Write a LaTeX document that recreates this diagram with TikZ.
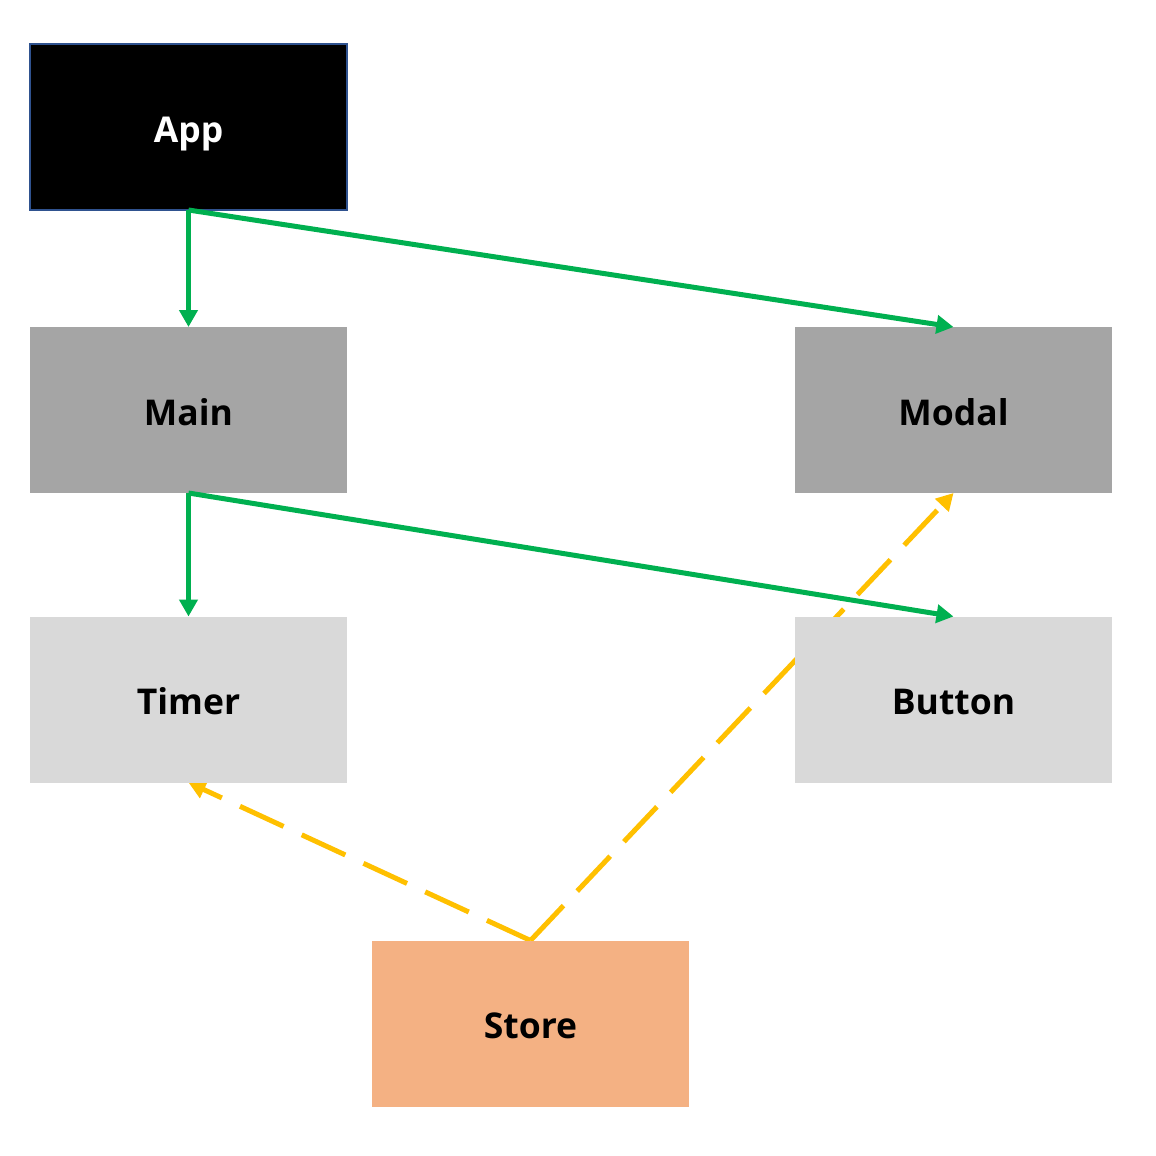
\documentclass[tikz,border=0pt]{standalone}
\usepackage{fontspec}
\setmainfont{Open Sans}
\usetikzlibrary{arrows.meta,backgrounds}
\definecolor{appblue}{HTML}{2F528F}
\definecolor{midgray}{HTML}{A5A5A5}
\definecolor{lightgray}{HTML}{D9D9D9}
\definecolor{storeorange}{HTML}{F4B183}
\definecolor{pgreen}{HTML}{00B050}
\definecolor{pyellow}{HTML}{FFC000}
\begin{document}
\begin{tikzpicture}[x=1pt,y=-1pt,
  box/.style={minimum width=317pt,minimum height=166pt,inner sep=0pt,outer sep=0pt,text height=30pt,text depth=0pt,font=\fontsize{35.5}{40}\selectfont\bfseries},
  greenarrow/.style={draw=pgreen,line width=5pt,-{Triangle[length=17pt,width=18pt]}},
  yellowarrow/.style={draw=pyellow,line width=5pt,dash pattern=on 48pt off 20pt,-{Triangle[length=17pt,width=18pt]}}]
\useasboundingbox (0,0) rectangle (1156,1156);
\node[box,fill=black,draw=appblue,line width=2pt,text=white] (app) at (188.5,127) {App};
\node[box,fill=midgray] (main) at (188.5,410) {Main};
\node[box,fill=midgray] (modal) at (953.5,410) {Modal};
\node[box,fill=lightgray] (timer) at (188.5,699.5) {Timer};
\node[box,fill=lightgray] (button) at (953.5,699.5) {Button};
\node[box,fill=storeorange] (store) at (530.5,1023.5) {Store};
\begin{pgfonlayer}{background}
\fill[white] (0,0) rectangle (1156,1156);
\draw[yellowarrow] (store.north) -- (timer.south);
\draw[yellowarrow] (store.north) -- (modal.south);
\end{pgfonlayer}
\draw[greenarrow] (app.south) -- (main.north);
\draw[greenarrow] (app.south) -- (modal.north);
\draw[greenarrow] (main.south) -- (timer.north);
\draw[greenarrow] (main.south) -- (button.north);
\end{tikzpicture}
\end{document}
